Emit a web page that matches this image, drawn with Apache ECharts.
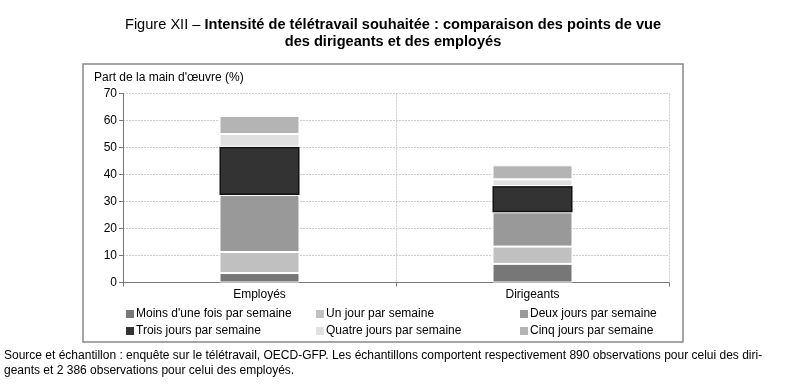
<!DOCTYPE html>
<html><head><meta charset="utf-8">
<script src="https://cdn.jsdelivr.net/npm/echarts@6/dist/echarts.min.js"></script>
<style>html,body{margin:0;padding:0;background:#fff}#c{width:800px;height:389px}</style>
</head><body><div id="c"></div>
<script>
const FONT = '"Liberation Sans Narrow","Arial Narrow","Liberation Sans",Arial,sans-serif';
const categories = ['Employés', 'Dirigeants'];
const seriesNames = ['Moins d\'une fois par semaine', 'Un jour par semaine', 'Deux jours par semaine',
  'Trois jours par semaine', 'Quatre jours par semaine', 'Cinq jours par semaine'];
const moinsUneFois = [3.5, 6.9];
const unJour = [7.8, 6.4];
const deuxJours = [21.1, 12.7];
const troisJours = [17.9, 9.7];
const quatreJours = [4.7, 2.5];
const cinqJours = [6.7, 5.2];
const yTicks = [0, 10, 20, 30, 40, 50, 60, 70];
const colors = ['#777777', '#c0c0c0', '#999999', '#333333', '#e0e0e0', '#b4b4b4'];
const values = [moinsUneFois, unJour, deuxJours, troisJours, quatreJours, cinqJours];

const legendPos = [[126, 308], [316, 308], [520, 308], [126, 325], [316, 325], [520, 325]];

const chart = echarts.init(document.getElementById('c'));
chart.setOption({
  animation: false,
  title: {
    left: 388, top: 11, textAlign: 'center',
    text: '{n|Figure XII – }{b|Intensité de télétravail souhaitée : comparaison des points de vue}\n{b|des dirigeants et des employés}',
    textStyle: {
      lineHeight: 17,
      rich: {
        n: {fontFamily: FONT, fontSize: 14.6, fontWeight: 'normal', color: '#000', lineHeight: 17},
        b: {fontFamily: FONT, fontSize: 14.6, fontWeight: 'bold', color: '#000', lineHeight: 17}
      }
    }
  },
  graphic: [
    {type: 'rect', shape: {x: 83, y: 64, width: 600, height: 278}, style: {fill: 'none', stroke: '#888', lineWidth: 1.5}, z: -1},
    {type: 'text', left: 94, top: 72, style: {text: 'Part de la main d\'œuvre (%)', font: '12px ' + FONT, fill: '#000'}},
    {type: 'text', left: 4, top: 348, style: {text: 'Source et échantillon : enquête sur le télétravail, OECD-GFP. Les échantillons comportent respectivement 890 observations pour celui des diri-\ngeants et 2 386 observations pour celui des employés.', font: '12px ' + FONT, fill: '#000', lineHeight: 15}}
  ],
  legend: seriesNames.map((n, i) => ({
    data: [n], left: legendPos[i][0], top: legendPos[i][1], itemWidth: 8, itemHeight: 8, itemGap: 0,
    icon: 'rect', selectedMode: false, padding: 0,
    itemStyle: {borderWidth: 0},
    textStyle: {fontFamily: FONT, fontSize: 12, color: '#000', padding: [0, 0, 0, -3]}
  })),
  grid: {left: 123, right: 131, top: 93.5, height: 189},
  xAxis: {
    type: 'category', data: categories,
    axisLine: {lineStyle: {color: '#777', width: 1}},
    axisTick: {show: true, alignWithLabel: false, length: 4, lineStyle: {color: '#777'}},
    axisLabel: {fontFamily: FONT, fontSize: 12, color: '#000', margin: 6},
    splitLine: {show: true, lineStyle: {color: '#ccc', type: [2, 1], width: 1}}
  },
  yAxis: {
    type: 'value', min: 0, max: 70, interval: 10,
    axisLine: {show: true, lineStyle: {color: '#777'}},
    axisTick: {show: true, length: 4, lineStyle: {color: '#777'}},
    axisLabel: {fontFamily: FONT, fontSize: 12, color: '#000', margin: 6,
      formatter: v => yTicks.includes(v) ? String(v) : ''},
    splitLine: {show: true, lineStyle: {color: '#ccc', type: [2, 1], width: 1}}
  },
  series: seriesNames.map((n, i) => ({
    name: n, type: 'bar', stack: 'total', data: values[i], barWidth: 80,
    itemStyle: {color: colors[i], borderColor: i === 3 ? '#111' : '#fff', borderWidth: i === 3 ? 1.5 : 1}
  }))
});
</script></body></html>
